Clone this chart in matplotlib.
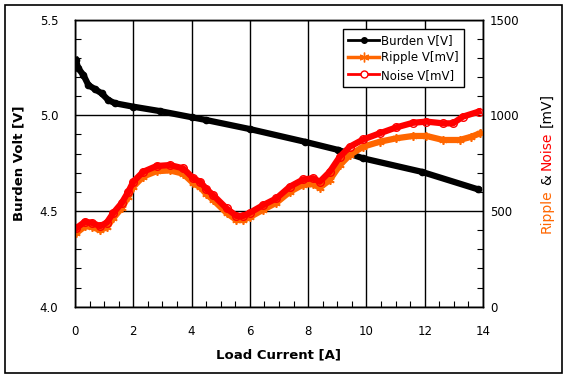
import numpy as np
import matplotlib
matplotlib.use('Agg')
import matplotlib.pyplot as plt
from matplotlib.lines import Line2D
from matplotlib.patches import Rectangle
from matplotlib.ticker import MultipleLocator, FormatStrFormatter

plt.rcParams['font.family'] = ['DejaVu Sans']

# Burden voltage [V] vs load current [A]
burden_x = [0.03, 0.11, 0.29, 0.46, 0.69, 0.91, 1.14, 1.37, 2.0, 2.91, 4.0, 4.51,
            6.0, 7.88, 9.03, 9.89, 11.89, 13.83]
burden_v = [5.289, 5.246, 5.21, 5.158, 5.136, 5.115, 5.08, 5.063, 5.045, 5.022, 4.99, 4.975,
            4.928, 4.862, 4.819, 4.775, 4.705, 4.613]

# Ripple voltage [mV]
ripple_x = [0.05, 0.34, 0.57, 0.86, 1.09, 1.31, 1.6, 1.83, 2.0, 2.34, 2.8, 3.26, 3.71,
            4.06, 4.29, 4.51, 4.74, 5.2, 5.54, 5.77, 6.0, 6.46, 6.91, 7.37, 7.83, 8.17,
            8.4, 8.74, 9.09, 9.43, 9.89, 10.46, 11.03, 11.6, 12.06, 12.63, 13.2, 13.6, 13.9]
ripple_mv = [385, 420, 418, 400, 415, 462, 515, 575, 627, 680, 708, 712, 695,
             645, 625, 588, 558, 490, 453, 453, 468, 507, 543, 600, 638, 640,
             622, 662, 740, 793, 836, 862, 880, 892, 892, 871, 871, 888, 906]

# Noise voltage [mV]
noise_x = [0.05, 0.34, 0.57, 0.86, 1.09, 1.31, 1.6, 1.83, 2.0, 2.34, 2.8, 3.26, 3.71,
           4.06, 4.29, 4.51, 4.74, 5.2, 5.54, 5.77, 6.0, 6.46, 6.91, 7.37, 7.83, 8.17,
           8.4, 8.74, 9.09, 9.43, 9.89, 10.46, 11.03, 11.6, 12.06, 12.63, 12.97, 13.31, 13.85]
noise_mv = [411, 444, 439, 421, 439, 489, 541, 601, 653, 705, 735, 740, 723,
            671, 653, 615, 583, 514, 474, 474, 491, 531, 566, 627, 665, 671,
            653, 705, 784, 836, 874, 906, 937, 961, 967, 958, 958, 993, 1019]

ORANGE = '#FF6600'
RED = '#FF0000'

W, H = 568, 380
fig = plt.figure(figsize=(W / 100, H / 100), dpi=100)
ax = fig.add_axes([75 / W, 1 - 306.7 / H, (483 - 75) / W, (306.7 - 19.6) / H])
ax2 = ax.twinx()

ax.plot(burden_x, burden_v, color='black', lw=4.5, marker='o', ms=4.5, zorder=3)
ax2.plot(ripple_x, ripple_mv, color=ORANGE, lw=4.5, marker=(6, 2, 0), ms=6, mew=1.2)
ax2.plot(noise_x, noise_mv, color=RED, lw=4.5, marker='o', ms=5.5, mfc='none', mew=1.0)

ax.set_xlim(0, 14)
ax.set_ylim(4.0, 5.5)
ax2.set_ylim(0, 1500)

ax.xaxis.set_major_locator(MultipleLocator(2))
ax.xaxis.set_minor_locator(MultipleLocator(0.5))
ax.yaxis.set_major_locator(MultipleLocator(0.5))
ax.yaxis.set_minor_locator(MultipleLocator(0.1))
ax.yaxis.set_major_formatter(FormatStrFormatter('%.1f'))
ax2.yaxis.set_major_locator(MultipleLocator(500))
ax2.yaxis.set_minor_locator(MultipleLocator(100))

ax.grid(True, which='major', color='black', lw=1)
ax.tick_params(axis='x', which='major', direction='in', length=0, pad=13, labelsize=8.5)
ax.tick_params(axis='x', which='minor', direction='in', length=4, width=0.8)
ax.tick_params(axis='y', which='major', direction='in', length=0, pad=12, labelsize=8.5)
ax.tick_params(axis='y', which='minor', direction='in', length=4, width=0.8)
ax2.tick_params(axis='y', which='major', direction='in', length=0, pad=5, labelsize=8.5)
ax2.tick_params(axis='y', which='minor', direction='in', length=4, width=0.8)
for a in (ax, ax2):
    for sp in a.spines.values():
        sp.set_color('black')
        sp.set_linewidth(1)

ax.set_xlabel('Load Current [A]', fontsize=9.5, fontweight='bold', labelpad=8)
ax.set_ylabel('Burden Volt [V]', fontsize=9.5, fontweight='bold', labelpad=10)

handles = [
    Line2D([], [], color='black', lw=2, marker='o', ms=4),
    Line2D([], [], color=ORANGE, lw=2.5, marker=(6, 2, 0), ms=7, mew=1),
    Line2D([], [], color=RED, lw=2, marker='o', ms=5, mfc='white', mew=1),
]
leg = ax2.legend(handles, ['Burden V[V]', 'Ripple V[mV]', 'Noise V[mV]'],
                 loc='upper left', bbox_to_anchor=(343 / W, 1 - 29 / H),
                 bbox_transform=fig.transFigure, fontsize=8.5, frameon=True,
                 fancybox=False, framealpha=1, edgecolor='black',
                 handlelength=2.6, handletextpad=0.2, borderpad=0.45,
                 labelspacing=0.35, borderaxespad=0)
leg.get_frame().set_linewidth(1)

# right axis label in several colours, stacked bottom to top
pieces = [('Ripple', ORANGE), ('&', 'black'), ('Noise', RED), ('[mV]', 'black')]
renderer = fig.canvas.get_renderer()
lab_kw = dict(rotation=90, fontsize=10, ha='center', va='bottom')
sp1 = fig.text(0, 0, 'a a', **lab_kw).get_window_extent(renderer).height
sp2 = fig.text(0, 0, 'aa', **lab_kw).get_window_extent(renderer).height
gap = sp1 - sp2
for t in fig.texts[:]:
    t.remove()
sizes = []
for s, c in pieces:
    t = fig.text(0, 0, s, color=c, **lab_kw)
    sizes.append(t.get_window_extent(renderer).height)
    t.remove()
total = sum(sizes) + gap * (len(pieces) - 1)
y = (H - 163) - total / 2
for (s, c), h in zip(pieces, sizes):
    fig.text(547 / W, y / H, s, color=c, **lab_kw)
    y += h + gap

fig.patches.append(Rectangle((5 / W, 7 / H), (562 - 5) / W, (373 - 5) / H,
                             transform=fig.transFigure, fill=False,
                             edgecolor='black', lw=1.2))

fig.savefig('out.png', dpi=100)
